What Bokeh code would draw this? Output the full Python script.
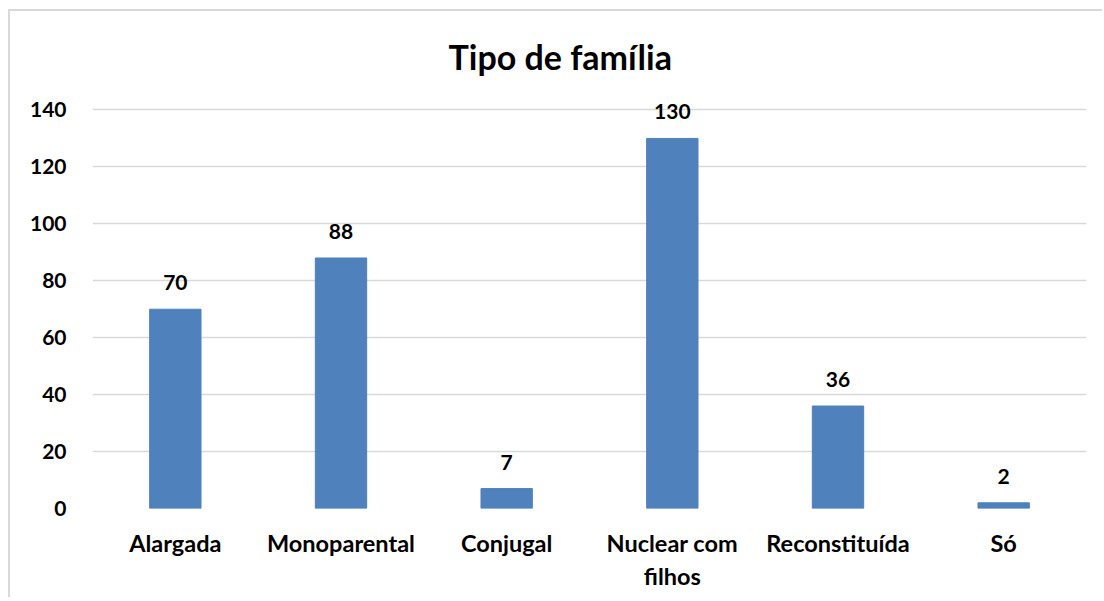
from bokeh.plotting import figure
from bokeh.models import ColumnDataSource, FactorRange, Range1d, FixedTicker, LabelSet
from bokeh.core.properties import value
from bokeh.embed import file_html
from bokeh.resources import INLINE

categories = ["Alargada", "Monoparental", "Conjugal", "Nuclear com\nfilhos", "Reconstituída", "Só"]
values = [70, 88, 7, 130, 36, 2]
y_ticks = [0, 20, 40, 60, 80, 100, 120, 140]
title_text = "Tipo de família"

FONT = "Lato"
src = ColumnDataSource(dict(cat=categories, val=values, lab=[str(v) for v in values]))

p = figure(x_range=FactorRange(factors=categories), y_range=Range1d(0, 150),
           width=1094, height=588, output_backend="svg", toolbar_location=None,
           min_border_left=82, min_border_right=18, min_border_top=70, min_border_bottom=91)
p.styles = {"border-left": "2px solid #d9d9d9", "border-top": "2px solid #d9d9d9",
            "margin-top": "9px", "margin-left": "8px"}

p.title.text = title_text
p.title.align = "left"
p.title.text_font = FONT
p.title.text_font_style = "bold"
p.title.text_font_size = "34px"
p.title.text_color = "#000000"
p.title.standoff = 10
p.title.offset = 356

p.vbar(x="cat", top="val", width=0.31, source=src, fill_color="#4f81bd", line_color="#4f81bd")

labels = LabelSet(x="cat", y="val", text="lab", source=src, text_align="center", text_baseline="bottom",
                  y_offset=19, text_font=value(FONT), text_font_style="bold", text_font_size="21px",
                  text_color="#000000")
p.add_layout(labels)

p.outline_line_color = None
p.background_fill_color = "white"
p.border_fill_color = "white"
p.xgrid.grid_line_color = None
p.ygrid.grid_line_color = "#d9d9d9"
p.ygrid.grid_line_width = 1.5
p.yaxis.ticker = FixedTicker(ticks=y_ticks)

for ax in (p.xaxis[0], p.yaxis[0]):
    ax.axis_line_color = None
    ax.major_tick_line_color = None
    ax.minor_tick_line_color = None
    ax.major_label_text_font = FONT
    ax.major_label_text_font_style = "bold"
    ax.major_label_text_color = "#000000"
p.yaxis.major_label_text_font_size = "21px"
p.xaxis.major_label_text_font_size = "23.5px"
p.yaxis.major_label_standoff = 20
p.xaxis.major_label_standoff = 14

open("out.html", "w").write(file_html(p, INLINE))
